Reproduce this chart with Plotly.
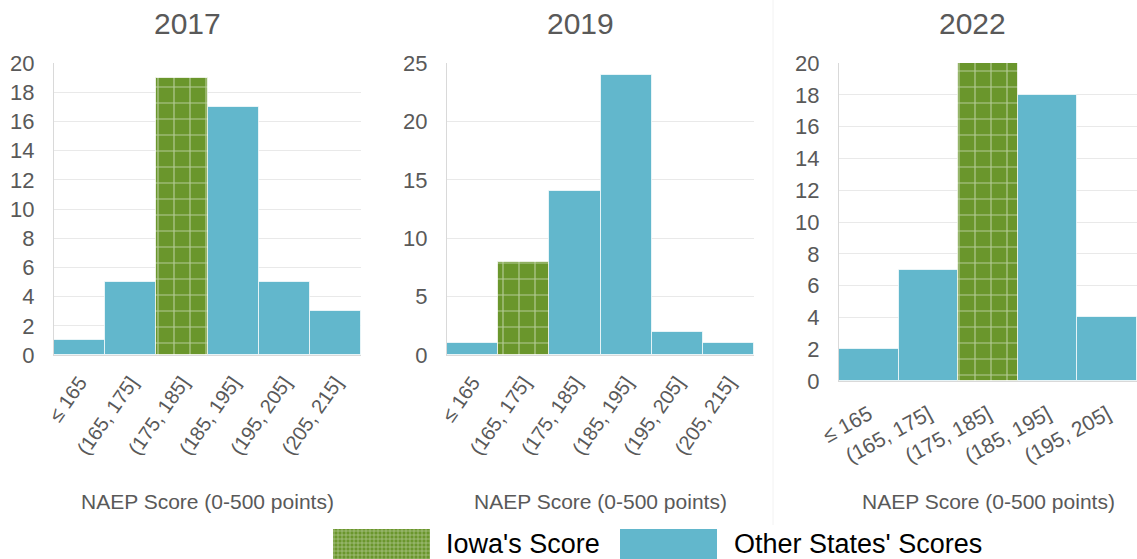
import plotly.graph_objects as go

# ---------------- data ----------------
bins_6 = ["≤ 165", "(165, 175]", "(175, 185]", "(185, 195]", "(195, 205]", "(205, 215]"]
bins_5 = ["≤ 165", "(165, 175]", "(175, 185]", "(185, 195]", "(195, 205]"]

years = ["2017", "2019", "2022"]
counts_2017 = [1, 5, 19, 17, 5, 3]
counts_2019 = [1, 8, 14, 24, 2, 1]
counts_2022 = [2, 7, 20, 18, 4]
iowa_bin_2017 = "(175, 185]"
iowa_bin_2019 = "(165, 175]"
iowa_bin_2022 = "(175, 185]"

y_max = [20, 25, 20]
y_step = [2, 5, 2]

legend_labels = ["Iowa's Score", "Other States' Scores"]
x_title = "NAEP Score (0-500 points)"

# ---------------- style ----------------
W, H = 1137, 559
GREEN = "#6a962c"
BLUE = "#62b7cc"
GRAY = "#595959"
GRID = "#e9e9e9"
FONT = "Liberation Sans, Arial, sans-serif"

panels = [
    dict(bins=bins_6, counts=counts_2017, iowa=iowa_bin_2017, x=(54, 361), y=(63, 355), angle=-55,
         title_x=187, standoff=7, tsize=20),
    dict(bins=bins_6, counts=counts_2019, iowa=iowa_bin_2019, x=(447, 754), y=(63, 355), angle=-55,
         title_x=580, standoff=7, tsize=20),
    dict(bins=bins_5, counts=counts_2022, iowa=iowa_bin_2022, x=(839, 1137), y=(63, 381), angle=-29,
         title_x=972, standoff=12, tsize=21),
]

fig = go.Figure()
annotations = []

for i, p in enumerate(panels):
    ax = "" if i == 0 else str(i + 1)
    xref, yref = "x" + ax, "y" + ax
    others_x = [b for b in p["bins"] if b != p["iowa"]]
    others_y = [c for b, c in zip(p["bins"], p["counts"]) if b != p["iowa"]]
    iowa_y = [c for b, c in zip(p["bins"], p["counts"]) if b == p["iowa"]]
    fig.add_trace(go.Bar(
        x=others_x, y=others_y, xaxis=xref, yaxis=yref, showlegend=False,
        marker=dict(color=BLUE, line=dict(color="rgba(255,255,255,0.7)", width=1)),
        hoverinfo="x+y", name=legend_labels[1],
    ))
    fig.add_trace(go.Bar(
        x=[p["iowa"]], y=iowa_y, xaxis=xref, yaxis=yref, showlegend=False,
        marker=dict(color=GREEN, line=dict(color="rgba(255,255,255,0.7)", width=1),
                    pattern=dict(shape="+", fgcolor="white", bgcolor=GREEN, size=16, solidity=0.14)),
        hoverinfo="x+y", name=legend_labels[0],
    ))
    x0, x1 = p["x"]
    yt, yb = p["y"]
    fig.update_layout({
        "xaxis" + ax: dict(
            domain=[x0 / W, x1 / W], anchor=yref, type="category",
            categoryorder="array", categoryarray=p["bins"],
            range=[-0.5, len(p["bins"]) - 0.5],
            tickangle=p["angle"], tickfont=dict(family=FONT, size=p["tsize"], color=GRAY),
            showline=True, linecolor="#d9d9d9", linewidth=1, showgrid=False,
            ticks="", ticklabelstandoff=p["standoff"], fixedrange=True, automargin=False,
        ),
        "yaxis" + ax: dict(
            domain=[1 - yb / H, 1 - yt / H], anchor=xref,
            range=[0, y_max[i]], dtick=y_step[i], tick0=0,
            tickfont=dict(family=FONT, size=22, color=GRAY),
            showgrid=True, gridcolor=GRID, gridwidth=1,
            showline=True, linecolor="#d9d9d9", linewidth=1,
            zeroline=False, ticks="", ticklabelstandoff=14, fixedrange=True, automargin=False,
        ),
    })
    annotations.append(dict(text=years[i], x=p["title_x"] / W, y=1 - 23 / H, xref="paper", yref="paper",
                            xanchor="center", yanchor="middle", showarrow=False,
                            font=dict(family=FONT, size=30, color=GRAY)))
    annotations.append(dict(text=x_title, x=(x0 + x1) / 2 / W, y=1 - 501 / H, xref="paper", yref="paper",
                            xanchor="center", yanchor="middle", showarrow=False,
                            font=dict(family=FONT, size=21, color=GRAY)))

# ---------------- legend (drawn as swatches on a hidden axis) ----------------
LEG_SWATCH_CENTERS = [381, 668.5]
LEG_SWATCH_W = 97
LEG_TEXT_X = [444, 732]
fig.add_trace(go.Bar(
    x=[LEG_SWATCH_CENTERS[0]], y=[1], width=[LEG_SWATCH_W], xaxis="x4", yaxis="y4", showlegend=False,
    marker=dict(color=GREEN, line=dict(width=0),
                pattern=dict(shape="+", fgcolor="white", bgcolor=GREEN, size=4, solidity=0.3)),
    hoverinfo="skip",
))
fig.add_trace(go.Bar(
    x=[LEG_SWATCH_CENTERS[1]], y=[1], width=[LEG_SWATCH_W], xaxis="x4", yaxis="y4", showlegend=False,
    marker=dict(color=BLUE, line=dict(width=0)), hoverinfo="skip",
))
fig.update_layout(
    xaxis4=dict(domain=[0, 1], range=[0, W], visible=False, anchor="y4", fixedrange=True, automargin=False),
    yaxis4=dict(domain=[0, 30 / H], range=[0, 1], visible=False, anchor="x4", fixedrange=True, automargin=False),
)
for t, lx in zip(legend_labels, LEG_TEXT_X):
    annotations.append(dict(text=t, x=lx / W, y=1 - 544 / H, xref="paper", yref="paper",
                            xanchor="left", yanchor="middle", showarrow=False,
                            font=dict(family=FONT, size=27, color="black")))

fig.update_layout(
    width=W, height=H,
    margin=dict(l=0, r=0, t=0, b=0, pad=0, autoexpand=False),
    paper_bgcolor="white", plot_bgcolor="white",
    barmode="overlay", bargap=0,
    showlegend=False,
    annotations=annotations,
    shapes=[dict(type="line", xref="paper", yref="paper", x0=773 / W, x1=773 / W,
                 y0=1 - 525 / H, y1=1, line=dict(color="#f2f2f2", width=1))],
)

fig.write_html("out.html", config={"displayModeBar": False},
               post_script="document.body.style.margin='0';document.body.style.overflow='hidden';")
